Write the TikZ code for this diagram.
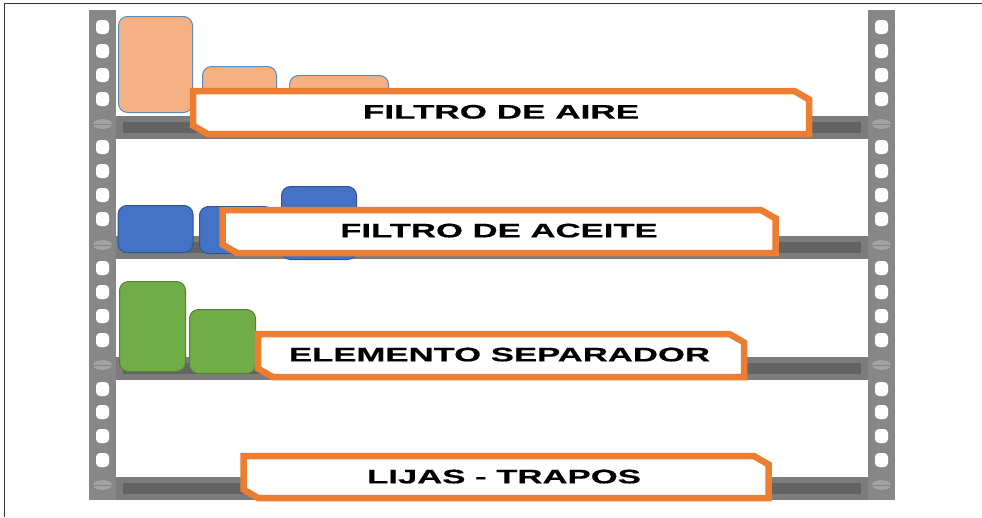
\documentclass[tikz,border=0pt]{standalone}
\usepackage{fontspec}
\setmainfont[FakeStretch=1.78,BoldFeatures={FakeBold=0.5}]{Liberation Sans}
\usetikzlibrary{shapes.misc,shapes.geometric,positioning}

\definecolor{postgray}{HTML}{878787}
\definecolor{shelfgray}{HTML}{7C7C7C}
\definecolor{shelfdark}{HTML}{636363}
\definecolor{screwgray}{HTML}{A3A3A3}
\definecolor{labelorange}{HTML}{ED7D31}
\definecolor{peachfill}{HTML}{F4B183}
\definecolor{peachline}{HTML}{5B8DB8}
\definecolor{bluefill}{HTML}{4472C4}
\definecolor{blueline}{HTML}{2F5597}
\definecolor{greenfill}{HTML}{70AD47}
\definecolor{greenline}{HTML}{548235}

\begin{document}
\begin{tikzpicture}[
  x=1pt,y=-1pt,
  post/.style={fill=postgray,anchor=north west,inner sep=0pt,minimum width=27pt,minimum height=490pt},
  hole/.style={fill=white,rounded corners=4pt,inner sep=0pt,minimum width=13pt,minimum height=14pt},
  screw/.style={ellipse,fill=screwgray,draw=postgray!70!white,line width=0.5pt,inner sep=0pt,minimum width=18pt,minimum height=9pt},
  shelf/.style={fill=shelfgray,anchor=north west,inner sep=0pt,minimum width=752pt,minimum height=23pt},
  shelfin/.style={fill=shelfdark,inner sep=0pt,minimum width=738pt,minimum height=11pt},
  bar/.style={draw,rounded corners=9pt,anchor=north west,inner sep=0pt,line width=1pt},
  peachbar/.style={bar,fill=peachfill,draw=peachline},
  bluebar/.style={bar,fill=bluefill,draw=blueline},
  greenbar/.style={bar,fill=greenfill,draw=greenline},
  tag/.style={chamfered rectangle,chamfered rectangle corners={north east,south west},
              chamfered rectangle xsep=8.5pt,chamfered rectangle angle=60,
              draw=labelorange,fill=white,line width=6.5pt,inner sep=0pt,
              font=\bfseries\fontsize{19.5}{22}\selectfont},
]
\useasboundingbox (0,0) rectangle (982,517);

%% ---- Frame lines -----------------------------------------------------------
\coordinate (framebl) at (4,517);
\coordinate (frametl) at (4,3.5);
\coordinate (frametr) at (982,3.5);
\draw[black!80,line width=1pt] (framebl) -- (frametl) -- (frametr);

%% ---- Shelves ---------------------------------------------------------------
\foreach \y [count=\n] in {116,236,357,477}{
  \node[shelf] (shelf\n) at (116,\y) {};
  \node[shelfin] (shelfin\n) at (shelf\n.center) {};
}

%% ---- Uprights with their holes and screws ----------------------------------
\foreach \x/\side in {89/l,868/r}{
  \node[post] (post\side) at (\x,10) {};
  \foreach \y [count=\n] in {27,51,75,99,147,171,195,219,268,292,316,340,389,412,436,460}{
    \node[hole] (hole\side\n) at (\x+13.5,\y) {};
  }
  \foreach \y [count=\n] in {124,245,365,485}{
    \node[screw] (screw\side\n) at (\x+13.5,\y) {};
    \draw[postgray,line width=0.6pt] (screw\side\n.west) -- (screw\side\n.east);
  }
}

%% ---- Stock on the shelves --------------------------------------------------
\node[peachbar,minimum width=74pt,minimum height=96pt] (air1) at (118,16) {};
\node[peachbar,minimum width=74pt,minimum height=50pt] (air2) at (202,66) {};
\node[peachbar,minimum width=99pt,minimum height=40pt] (air3) at (289,75) {};

\node[bluebar,minimum width=75pt,minimum height=47pt] (oil1) at (117.5,205) {};
\node[bluebar,minimum width=74pt,minimum height=47pt] (oil2) at (199,206) {};
\node[bluebar,minimum width=75pt,minimum height=73pt] (oil3) at (281,186) {};

\node[greenbar,minimum width=66pt,minimum height=90pt] (sep1) at (119,281) {};
\node[greenbar,minimum width=66pt,minimum height=64pt] (sep2) at (189,309) {};

%% ---- Labels ----------------------------------------------------------------
\node[tag,minimum width=616pt,minimum height=43pt] (airtag) at (501,112.5) {\raisebox{1.5pt}{\addfontfeature{FakeStretch=1.8}FILTRO DE AIRE}};
\node[tag,minimum width=553pt,minimum height=43pt] (oiltag) at (499,231.5) {\raisebox{2pt}{FILTRO DE ACEITE}};
\node[tag,minimum width=486pt,minimum height=43pt] (septag) at (501,355.5) {\hspace*{-3pt}\raisebox{2pt}{ELEMENTO SEPARADOR}};
\node[tag,minimum width=525pt,minimum height=42pt] (ragtag) at (506,477) {\hspace*{-4pt}\raisebox{1pt}{LIJAS - TRAPOS}};

\end{tikzpicture}
\end{document}
